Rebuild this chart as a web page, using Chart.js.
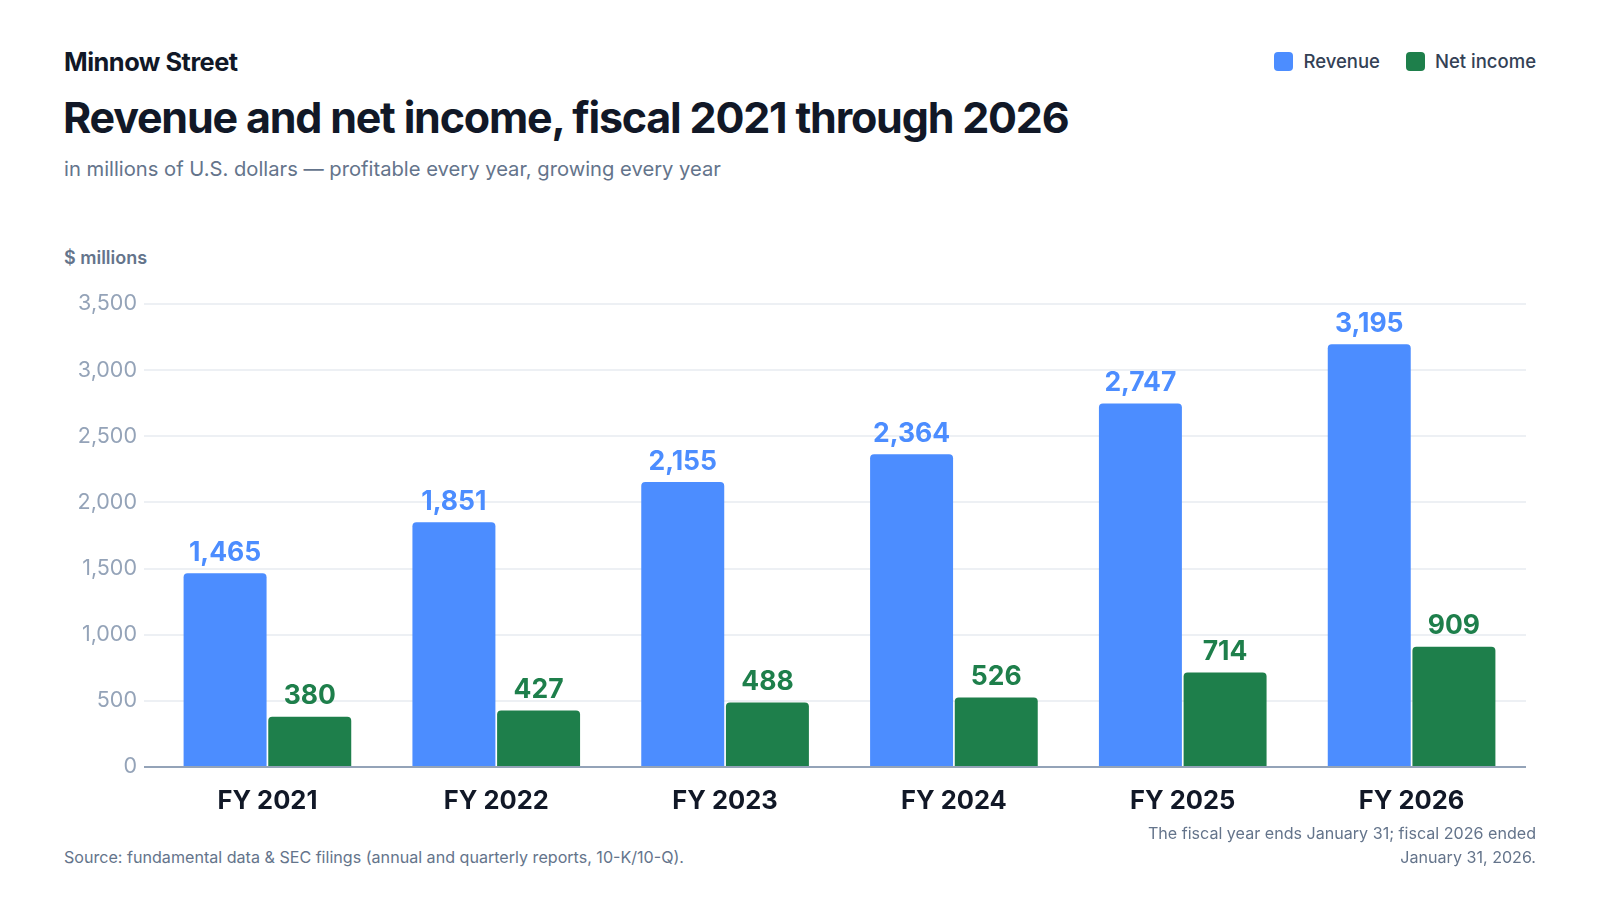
<!DOCTYPE html>
<html>
<head>
<meta charset="utf-8">
<script src="https://cdn.jsdelivr.net/npm/chart.js@4.4.1/dist/chart.umd.min.js"></script>
<style>
  html, body { margin: 0; padding: 0; background: #fff; }
  body { width: 1600px; height: 900px; position: relative; overflow: hidden; font-family: Inter, "Noto Sans", sans-serif; }
  .brand { position: absolute; left: 64px; top: 46px; font-size: 25.4px; font-weight: 700; color: #111827; letter-spacing: -0.5px; }
  .title { position: absolute; left: 63px; top: 91px; font-size: 43px; font-weight: 700; color: #111827; letter-spacing: -1.2px; }
  .subtitle { position: absolute; left: 64px; top: 156px; font-size: 20.2px; color: #64748b; }
  .unit { position: absolute; left: 64px; top: 247px; font-size: 18px; font-weight: 600; color: #64748b; }
  .legend { position: absolute; right: 64px; top: 50px; display: flex; gap: 26px; font-size: 18.5px; color: #334155; font-weight: 500; }
  .legend span.item { display: flex; align-items: center; }
  .legend i { display: inline-block; width: 19px; height: 19px; border-radius: 4px; margin-right: 10px; }
  .source { position: absolute; left: 64px; top: 847px; font-size: 16.1px; color: #64748b; }
  .note { position: absolute; right: 64px; top: 821px; font-size: 16.1px; color: #64748b; text-align: right; line-height: 24px; }
  #wrap { position: absolute; left: 40px; top: 280px; width: 1500px; height: 550px; }
</style>
</head>
<body>
<div class="brand">Minnow Street</div>
<div class="title">Revenue and net income, fiscal 2021 through 2026</div>
<div class="subtitle">in millions of U.S. dollars — profitable every year, growing every year</div>
<div class="unit">$ millions</div>
<div class="legend" id="legend"></div>
<div id="wrap"><canvas id="chart"></canvas></div>
<div class="source">Source: fundamental data &amp; SEC filings (annual and quarterly reports, 10-K/10-Q).</div>
<div class="note">The fiscal year ends January 31; fiscal 2026 ended<br>January 31, 2026.</div>
<script>
// Données du graphique
const years = ['FY 2021', 'FY 2022', 'FY 2023', 'FY 2024', 'FY 2025', 'FY 2026'];
const revenue = [1465, 1851, 2155, 2364, 2747, 3195];
const netIncome = [380, 427, 488, 526, 714, 909];
const yTicks = [0, 500, 1000, 1500, 2000, 2500, 3000, 3500];

const blue = '#4c8dff';
const green = '#1e7f4b';

const series = [
    { label: 'Revenue', data: revenue, color: blue },
    { label: 'Net income', data: netIncome, color: green }
];

// Légende en HTML
document.getElementById('legend').innerHTML = series
    .map(s => `<span class="item"><i style="background:${s.color}"></i>${s.label}</span>`)
    .join('');

// Étiquettes de valeurs au-dessus des barres
const valueLabels = {
    id: 'valueLabels',
    afterDatasetsDraw(chart) {
        const ctx = chart.ctx;
        ctx.save();
        ctx.font = '700 26.5px Inter, "Noto Sans", sans-serif';
        ctx.textAlign = 'center';
        ctx.textBaseline = 'bottom';
        chart.data.datasets.forEach((ds, i) => {
            chart.getDatasetMeta(i).data.forEach((bar, j) => {
                ctx.fillStyle = ds.backgroundColor;
                ctx.fillText(ds.data[j].toLocaleString('en-US'), bar.x, bar.y - 7);
            });
        });
        ctx.restore();
    }
};

const ctx = document.getElementById('chart').getContext('2d');
new Chart(ctx, {
    type: 'bar',
    data: {
        labels: years,
        datasets: series.map(s => ({
            label: s.label,
            data: s.data,
            backgroundColor: s.color,
            borderRadius: 4,
            borderSkipped: 'start',
            barPercentage: 0.98,
            categoryPercentage: 0.74
        }))
    },
    plugins: [valueLabels],
    options: {
        responsive: true,
        maintainAspectRatio: false,
        animation: false,
        layout: { padding: { top: 24, right: 14, bottom: 0, left: 0 } },
        plugins: {
            legend: { display: false },
            tooltip: { enabled: false }
        },
        scales: {
            x: {
                grid: { display: false },
                border: { display: false },
                ticks: {
                    color: '#111827',
                    font: { family: 'Inter', size: 25.5, weight: '700' },
                    padding: 11
                },
                afterFit(scale) { scale.height = 63; }
            },
            y: {
                min: 0,
                max: 3500,
                afterBuildTicks(scale) { scale.ticks = yTicks.map(v => ({ value: v })); },
                grid: {
                    color: c => c.tick.value === 0 ? '#94a3b8' : '#edf0f4',
                    lineWidth: 2,
                    drawTicks: true,
                    tickLength: 9
                },
                border: { display: false },
                ticks: {
                    color: '#94a3b8',
                    font: { family: 'Inter', size: 21.5 },
                    padding: 7,
                    callback: v => v.toLocaleString('en-US')
                },
                afterFit(scale) { scale.width = 113; }
            }
        }
    }
});
</script>
</body>
</html>
